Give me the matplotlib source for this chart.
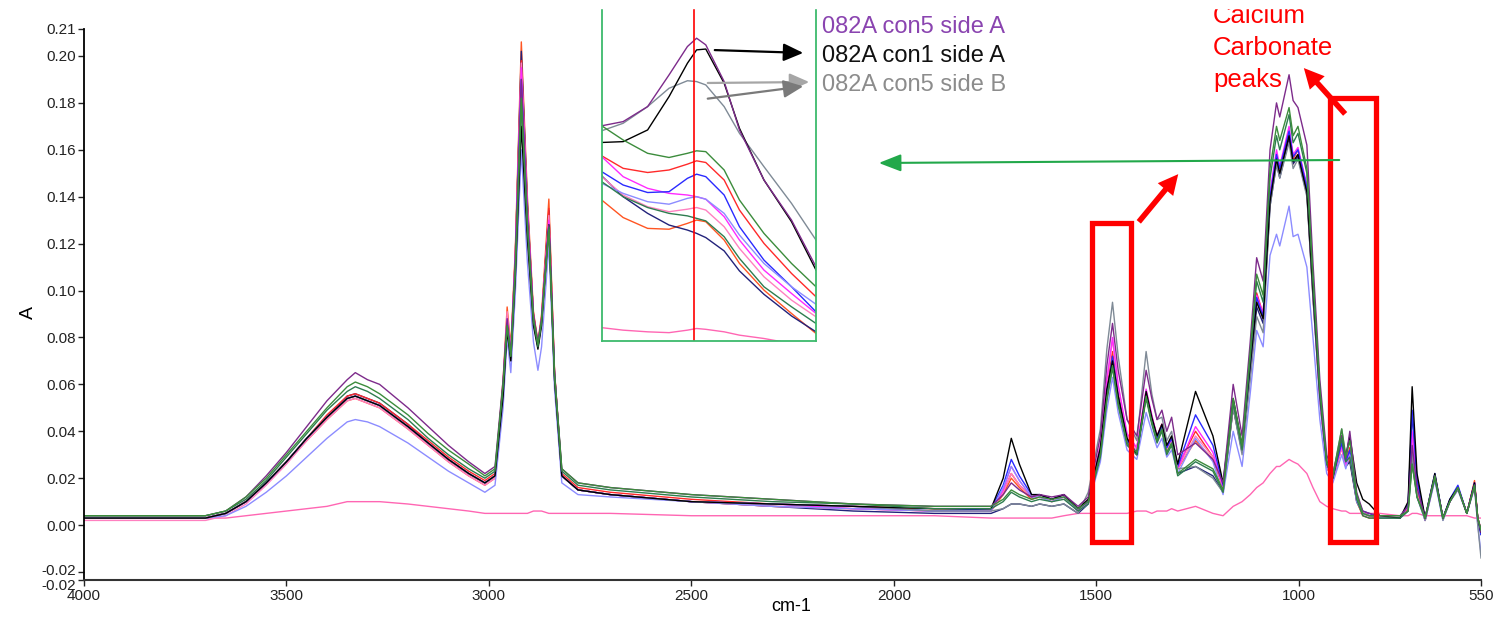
import matplotlib
matplotlib.use("Agg")
import matplotlib.pyplot as plt
from matplotlib.patches import Rectangle, FancyArrowPatch
from matplotlib.transforms import ScaledTranslation

plt.rcParams['font.family'] = ['Liberation Sans', 'DejaVu Sans']

# wavenumber grid (cm-1) the spectra were read at
wavenumber = [4000, 3700, 3650, 3600, 3550, 3500, 3450, 3400, 3350, 3330, 3300, 3270, 3200, 3150, 3100, 3050, 3010,
              2985, 2965, 2955, 2946, 2935, 2920, 2905, 2890, 2879, 2870, 2852, 2838, 2820, 2780, 2700, 2500, 2300, 2100, 1900,
              1760, 1730, 1710, 1690, 1660, 1640, 1610, 1580, 1545, 1520, 1490, 1474, 1460, 1446, 1424, 1400, 1377, 1363, 1350,
              1338, 1326, 1314, 1299, 1255, 1212, 1187, 1162, 1140, 1120, 1104, 1088, 1071, 1055, 1047, 1024, 1014, 1002, 980,
              965, 948, 931, 916, 894, 884, 874, 857, 842, 826, 800, 750, 730, 720, 708, 688, 664, 644, 627, 607, 585, 566, 558, 550]

a_purple = [.004, .004, .006, .012, .021, .031, .042, .053, .062, .065, .062, .060, .050, .042, .034, .027, .022,
            .025, .062, .088, .073, .112, .190, .132, .090, .078, .088, .128, .065, .024, .018, .016, .013, .011, .009, .008,
            .008, .013, .018, .015, .012, .013, .012, .013, .008, .012, .038, .068, .086, .066, .045, .038, .066, .054, .045,
            .049, .040, .046, .030, .035, .028, .018, .060, .038, .078, .114, .104, .160, .180, .174, .192, .181, .178, .162,
            .112, .062, .030, .022, .038, .028, .040, .014, .006, .005, .004, .004, .008, .034, .016, .003, .021, .003, .010, .016, .005, .017, .003, -.003]
a_black = [.003, .003, .005, .010, .018, .027, .037, .046, .054, .055, .053, .051, .042, .035, .028, .022, .018,
           .021, .055, .083, .070, .105, .170, .122, .085, .075, .085, .128, .062, .021, .015, .013, .010, .009, .008, .007,
           .007, .020, .037, .026, .013, .013, .011, .013, .007, .011, .033, .058, .070, .055, .037, .030, .057, .046, .038,
           .043, .034, .038, .026, .057, .038, .018, .054, .034, .068, .095, .088, .138, .156, .150, .166, .155, .158, .142,
           .100, .056, .027, .020, .038, .029, .038, .018, .011, .009, .004, .003, .010, .059, .022, .003, .022, .003, .011, .016, .005, .018, .003, -.003]
a_gray = [.003, .003, .005, .010, .018, .027, .037, .046, .054, .055, .053, .051, .042, .035, .028, .022, .018,
          .021, .058, .085, .071, .108, .175, .125, .086, .076, .086, .125, .062, .021, .015, .013, .010, .009, .008, .006,
          .006, .007, .009, .009, .008, .009, .008, .009, .005, .014, .041, .075, .095, .072, .045, .036, .074, .056, .045,
          .046, .036, .040, .024, .025, .020, .014, .050, .030, .062, .089, .082, .136, .154, .148, .163, .152, .156, .140,
          .098, .055, .027, .021, .041, .030, .037, .012, .005, .004, .003, .003, .006, .030, .012, .002, .020, .002, .010, .015, .005, .016, .000, -.014]
a_green = [.004, .004, .006, .012, .020, .030, .040, .050, .059, .061, .059, .056, .047, .039, .032, .026, .021,
           .024, .060, .085, .072, .108, .182, .128, .088, .077, .087, .126, .064, .024, .018, .016, .013, .011, .009, .008,
           .008, .011, .015, .013, .011, .012, .011, .012, .007, .010, .030, .054, .068, .052, .035, .031, .055, .044, .036,
           .041, .031, .035, .022, .028, .024, .015, .054, .034, .074, .107, .098, .152, .170, .164, .178, .166, .170, .152,
           .106, .058, .027, .021, .041, .029, .036, .013, .005, .004, .004, .004, .006, .026, .012, .003, .021, .003, .010, .016, .005, .017, .003, -.002]
a_red = [.003, .003, .005, .010, .018, .027, .037, .047, .055, .056, .054, .052, .043, .036, .029, .023, .019,
         .022, .060, .088, .073, .115, .198, .135, .090, .077, .088, .135, .065, .022, .016, .014, .011, .009, .008, .007,
         .007, .014, .022, .017, .012, .013, .011, .013, .007, .010, .032, .058, .074, .056, .037, .033, .057, .046, .038,
         .043, .033, .037, .025, .040, .029, .016, .052, .033, .068, .099, .090, .140, .158, .152, .167, .156, .160, .144,
         .100, .055, .026, .020, .036, .027, .033, .012, .005, .004, .003, .003, .008, .038, .017, .003, .021, .003, .010, .016, .005, .018, .003, -.002]
a_blue = [.003, .003, .005, .010, .018, .027, .037, .046, .054, .055, .053, .051, .042, .035, .028, .022, .018,
          .021, .058, .086, .072, .110, .190, .130, .088, .076, .087, .128, .063, .021, .015, .013, .010, .009, .008, .006,
          .007, .017, .028, .021, .013, .013, .011, .013, .007, .010, .031, .056, .072, .055, .036, .031, .056, .045, .037,
          .042, .033, .037, .025, .047, .034, .017, .053, .033, .067, .097, .089, .140, .158, .152, .168, .157, .160, .144,
          .100, .055, .026, .020, .035, .027, .032, .012, .006, .005, .003, .003, .009, .049, .019, .003, .022, .003, .011, .017, .005, .018, .002, -.004]
a_magenta = [.003, .003, .005, .010, .018, .027, .037, .046, .054, .055, .053, .051, .042, .035, .028, .022, .018,
             .021, .060, .088, .073, .113, .195, .134, .089, .077, .088, .130, .064, .021, .015, .013, .010, .009, .007, .006,
             .006, .015, .025, .019, .012, .013, .011, .013, .006, .010, .034, .062, .080, .060, .039, .033, .058, .047, .038,
             .043, .033, .037, .024, .042, .031, .016, .052, .033, .068, .098, .090, .142, .160, .153, .170, .158, .161, .145,
             .100, .055, .026, .020, .034, .026, .031, .011, .005, .004, .003, .003, .008, .040, .017, .002, .021, .003, .010, .016, .005, .018, .003, -.002]
a_pink = [.002, .002, .004, .009, .017, .026, .036, .045, .053, .054, .052, .050, .041, .034, .027, .021, .017,
          .020, .060, .091, .074, .114, .197, .135, .089, .077, .088, .132, .065, .021, .015, .013, .010, .008, .007, .006,
          .006, .014, .022, .017, .012, .012, .010, .012, .006, .010, .034, .061, .079, .059, .038, .032, .057, .046, .037,
          .042, .032, .036, .024, .038, .029, .016, .051, .032, .067, .097, .089, .140, .158, .152, .168, .157, .160, .144,
          .099, .054, .025, .019, .033, .025, .030, .011, .005, .004, .003, .003, .008, .036, .016, .002, .020, .003, .010, .016, .005, .018, .003, -.002]
a_lavender = [.003, .003, .004, .008, .014, .021, .029, .037, .044, .045, .044, .042, .035, .029, .023, .018, .014,
              .017, .050, .080, .065, .098, .160, .112, .078, .066, .076, .120, .058, .018, .013, .012, .010, .008, .007, .006,
              .006, .016, .025, .019, .012, .012, .010, .012, .006, .009, .027, .049, .063, .048, .032, .028, .048, .040, .033,
              .037, .029, .032, .022, .037, .027, .013, .040, .025, .056, .083, .076, .115, .124, .119, .136, .123, .124, .110,
              .080, .045, .022, .018, .030, .024, .030, .010, .005, .004, .003, .003, .006, .030, .012, .002, .019, .002, .010, .015, .005, .016, .000, -.012]
a_green2 = [.004, .004, .006, .011, .019, .029, .039, .049, .057, .059, .057, .054, .045, .037, .030, .024, .020,
            .023, .059, .085, .072, .108, .180, .127, .087, .076, .087, .127, .064, .023, .017, .015, .012, .010, .009, .007,
            .007, .010, .014, .012, .010, .011, .010, .011, .006, .009, .029, .053, .067, .051, .034, .030, .054, .043, .035,
            .040, .030, .034, .021, .027, .023, .014, .052, .032, .071, .104, .095, .148, .166, .160, .175, .163, .167, .150,
            .104, .057, .026, .020, .037, .027, .029, .011, .004, .003, .003, .003, .006, .026, .012, .003, .020, .003, .010, .016, .005, .017, .003, -.002]
a_orange = [.003, .003, .005, .010, .018, .027, .036, .045, .053, .054, .052, .050, .041, .034, .027, .021, .017,
            .020, .062, .093, .076, .117, .206, .140, .091, .078, .090, .139, .066, .021, .015, .013, .010, .008, .007, .006,
            .006, .013, .020, .016, .011, .012, .010, .012, .006, .010, .031, .056, .072, .054, .036, .031, .055, .045, .036,
            .041, .032, .036, .024, .036, .028, .016, .050, .032, .066, .096, .088, .138, .156, .150, .165, .154, .158, .142,
            .098, .054, .025, .019, .033, .025, .028, .010, .004, .003, .003, .003, .007, .035, .015, .002, .020, .003, .010, .016, .005, .019, .003, -.002]
a_navy = [.003, .003, .005, .010, .018, .027, .037, .046, .055, .056, .054, .052, .043, .035, .028, .022, .018,
          .021, .060, .089, .074, .114, .202, .137, .089, .077, .088, .134, .065, .021, .015, .013, .010, .008, .006, .005,
          .005, .007, .009, .009, .008, .009, .008, .009, .005, .009, .030, .055, .070, .053, .035, .030, .055, .044, .036,
          .041, .031, .035, .022, .025, .021, .014, .050, .031, .064, .093, .086, .136, .154, .148, .165, .154, .157, .141,
          .097, .053, .025, .019, .034, .025, .027, .010, .005, .004, .003, .003, .008, .048, .019, .002, .021, .003, .010, .016, .005, .018, .002, -.004]
a_pinkflat = [.003, .003, .003, .004, .005, .006, .007, .008, .010, .010, .010, .010, .009, .008, .007, .006, .005,
              .005, .005, .005, .005, .005, .005, .005, .006, .006, .006, .005, .005, .005, .005, .005, .004, .004, .004, .004,
              .003, .003, .003, .003, .003, .003, .003, .004, .005, .005, .005, .005, .005, .005, .005, .006, .006, .005, .006,
              .006, .006, .007, .006, .008, .005, .004, .008, .010, .013, .016, .018, .022, .025, .025, .028, .027, .026, .022,
              .016, .010, .008, .007, .006, .006, .005, .005, .005, .005, .005, .004, .004, .005, .005, .004, .004, .004, .004, .004, .004, .003, .003, .003]

# zoomed view around the 875 cm-1 carbonate band
inset_wn = [890, 886.5, 882.5, 879, 876, 874.5, 873, 870, 867.5, 863.5, 859, 855]
i_purple = [.0258, .0263, .0281, .0319, .0353, .0363, .0355, .0311, .0253, .0193, .0145, .0089]
i_black = [.0238, .0239, .0253, .0293, .0333, .0349, .0350, .0309, .0255, .0193, .0143, .0085]
i_gray = [.0252, .0261, .0281, .0303, .0312, .0311, .0307, .0281, .0249, .0209, .0165, .0121]
i_green = [.0258, .0241, .0225, .0220, .0225, .0228, .0227, .0205, .0169, .0129, .0093, .0065]
i_red = [.0222, .0207, .0202, .0205, .0212, .0216, .0214, .0193, .0157, .0117, .0081, .0053]
i_blue = [.0203, .0187, .0178, .0179, .0195, .0200, .0197, .0175, .0137, .0097, .0065, .0035]
i_magenta = [.0221, .0197, .0183, .0177, .0175, .0173, .0170, .0149, .0121, .0085, .0057, .0033]
i_lavender = [.0189, .0177, .0167, .0164, .0171, .0173, .0170, .0153, .0127, .0093, .0065, .0044]
i_pink = [.0197, .0175, .0161, .0155, .0158, .0160, .0157, .0137, .0111, .0077, .0049, .0029]
i_green2 = [.0191, .0173, .0160, .0153, .0150, .0147, .0144, .0125, .0099, .0065, .0041, .0021]
i_orange = [.0169, .0148, .0135, .0134, .0141, .0145, .0143, .0121, .0093, .0061, .0033, .0009]
i_navy = [.0198, .0173, .0153, .0139, .0133, .0129, .0124, .0108, .0084, .0056, .0030, .0011]
i_pinkflat = [.0016, .0013, .0011, .0010, .0013, .0015, .0014, .0011, .0007, .0003, -.0003, -.0007]

colors = {
    'pinkflat': '#ff66b3', 'orange': '#ff5522', 'navy': '#22227a', 'red': '#ff2a2a',
    'pink': '#ff80c0', 'magenta': '#ff2aff', 'blue': '#2a2aff', 'lavender': '#8c8cff',
    'gray': '#7f8a96', 'black': '#000000', 'purple': '#7d2b8b', 'green2': '#2e7d4f', 'green': '#3c8c3c',
}
main_series = [('pinkflat', a_pinkflat), ('orange', a_orange), ('navy', a_navy), ('red', a_red),
               ('pink', a_pink), ('magenta', a_magenta), ('blue', a_blue), ('lavender', a_lavender),
               ('gray', a_gray), ('black', a_black), ('purple', a_purple), ('green2', a_green2), ('green', a_green)]
inset_series = [('pinkflat', i_pinkflat), ('orange', i_orange), ('navy', i_navy), ('red', i_red),
                ('pink', i_pink), ('magenta', i_magenta), ('blue', i_blue), ('lavender', i_lavender),
                ('gray', i_gray), ('black', i_black), ('purple', i_purple), ('green2', i_green2), ('green', i_green)]

legend_labels = ['082A con5 side A', '082A con1 side A', '082A con5 side B']
legend_colors = ['#8a44b0', '#111111', '#8c8c8c']
note_lines = ['Calcium', 'Carbonate', 'peaks']

y_lo, y_hi = -0.0234, 0.2115
yticks = [y_lo, -0.02, 0.0, 0.02, 0.04, 0.06, 0.08, 0.10, 0.12, 0.14, 0.16, 0.18, 0.20, y_hi]
xticks = [4000, 3500, 3000, 2500, 2000, 1500, 1000, 550]
boxes = [(1511, 1414, -0.0072, 0.129), (923, 809, -0.0072, 0.182)]

W, H = 1494, 620


def fpx(x, y):
    # figure pixel (from top-left) -> figure fraction
    return (x / W, 1 - y / H)


fig = plt.figure(figsize=(W / 100, H / 100), dpi=100)
ax = fig.add_axes([84 / W, 40 / H, 1397 / W, 551 / H])

for name, vals in main_series:
    ax.plot(wavenumber, vals, color=colors[name], lw=1.0)

ax.set_xlim(4000, 550)
ax.set_ylim(y_lo, y_hi)
ax.set_xticks(xticks)
ax.set_xticklabels([str(v) for v in xticks])
ax.set_yticks(yticks)
ax.set_yticklabels(['%.2f' % v for v in yticks])
ax.tick_params(labelsize=11, length=4, width=1, pad=1.5, colors='#222222')
ax.tick_params(axis='x', pad=2.5)
ax.spines[['top', 'right']].set_visible(False)
ax.spines['left'].set_linewidth(1.3)
ax.spines['bottom'].set_linewidth(1.5)
ax.spines['bottom'].set_color('#333333')
ax.set_xlabel('cm-1', fontsize=13, va='center')
ax.xaxis.set_label_coords(0.506, -0.049)
ax.set_ylabel('A', fontsize=14, va='center')
ax.yaxis.set_label_coords(-0.040, 0.486)

# the two "-0.02" labels sit very close; nudge them apart a little
ylabels = ax.get_yticklabels()
ylabels[0].set_transform(ylabels[0].get_transform() + ScaledTranslation(0, -3 / 72, fig.dpi_scale_trans))
ylabels[1].set_transform(ylabels[1].get_transform() + ScaledTranslation(0, 2 / 72, fig.dpi_scale_trans))

for x1, x2, yb, yt in boxes:
    ax.add_patch(Rectangle((x2, yb), x1 - x2, yt - yb, fill=False, edgecolor='#ff0000', lw=3.8, zorder=5))

# inset
ax_in = fig.add_axes([601.7 / W, 1 - 341 / H, (816 - 601.7) / W, (341 - 9) / H])
for name, vals in inset_series:
    ax_in.plot(inset_wn, vals, color=colors[name], lw=1.0)
ax_in.axvline(875, color='#ff0000', lw=1.2)
ax_in.set_xlim(890, 855)
ax_in.set_ylim(0, 0.0398)
ax_in.set_xticks([])
ax_in.set_yticks([])
ax_in.spines['top'].set_visible(False)
for s in ['left', 'right', 'bottom']:
    ax_in.spines[s].set_color('#3dba6c')
    ax_in.spines[s].set_linewidth(1.3)

# labels next to the inset
for i, (lab, c) in enumerate(zip(legend_labels, legend_colors)):
    fig.text(*fpx(822, 33 + 29 * i), lab, color=c, fontsize=17, va='baseline', ha='left')

for i, line in enumerate(note_lines):
    fig.text(*fpx(1213, 23 + 32 * i), line, color='#ff0000', fontsize=18.5, va='baseline', ha='left')


def arrow(p0, p1, color, style, scale, lw):
    fig.add_artist(FancyArrowPatch(fpx(*p0), fpx(*p1), transform=fig.transFigure, arrowstyle=style,
                                   mutation_scale=scale, color=color, lw=lw, zorder=10))


arrow((1342, 160), (876, 163), '#22a84a', '-|>,head_length=0.9,head_width=0.35', 15, 1.5)
arrow((1137, 224), (1180, 172), '#ff0000', 'simple,head_length=0.9,head_width=0.9,tail_width=0.25', 16, 0)
arrow((1347, 116), (1302, 66), '#ff0000', 'simple,head_length=0.9,head_width=0.9,tail_width=0.25', 16, 0)
arrow((712, 50), (806, 53), '#000000', '-|>,head_length=1.0,head_width=0.45', 12, 1.6)
arrow((705, 83), (812, 82), '#a6a6a6', '-|>,head_length=1.0,head_width=0.45', 12, 1.6)
arrow((705, 99), (806, 86), '#7a7a7a', '-|>,head_length=1.0,head_width=0.45', 12, 1.6)

# the original picture is cropped a few pixels from the top
fig.add_artist(Rectangle((0, 1 - 8 / H), 1, 8 / H, transform=fig.transFigure, color='white', zorder=20))

fig.savefig('out.png', dpi=100)
